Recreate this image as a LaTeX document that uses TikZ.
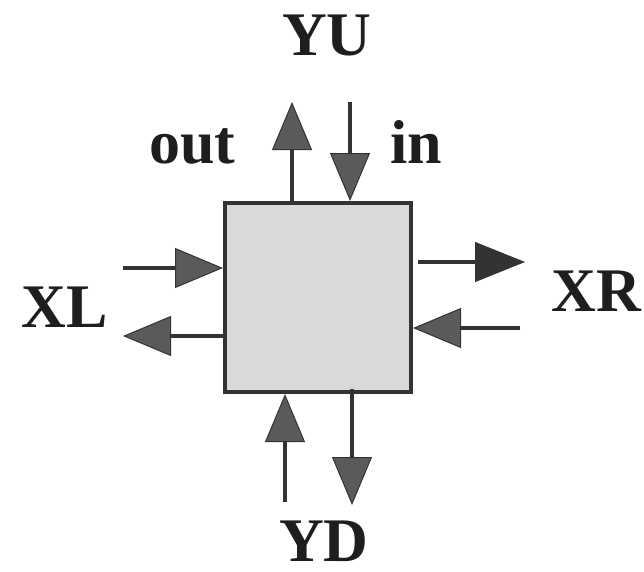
\documentclass[tikz,border=0pt]{standalone}
\usepackage{fontspec}
\setmainfont{Liberation Serif}
\usetikzlibrary{arrows.meta}

\definecolor{linegray}{HTML}{333333}
\definecolor{headgray}{HTML}{5A5A5A}
\definecolor{cellgray}{HTML}{D9D9D9}
\definecolor{textdark}{HTML}{1E1E1E}

\tikzset{
    cellbox/.style={draw=linegray, fill=cellgray, line width=4pt, inner sep=0pt,
        minimum width=186pt, minimum height=189pt},
    port/.style={draw=linegray, line width=4pt,
        -{Triangle[length=48pt, width=40pt, line width=1pt, fill=headgray]}},
    blackport/.style={port, -{Triangle[length=50pt, width=40pt, line width=1pt, fill=linegray]}},
    dirlabel/.style={font=\bfseries\fontsize{62}{62}\selectfont, inner sep=0pt, text=textdark},
}

\begin{document}
\begin{tikzpicture}[x=1pt, y=-1pt]
    \useasboundingbox (0,0) rectangle (644,571);

    \node[cellbox] (cell) at (318,297.5) {};

    % free ends of the ports
    \coordinate (outtip) at (292,102);
    \coordinate (intail) at (350,102);
    \coordinate (xlin) at (123,268);
    \coordinate (xlout) at (123,336);
    \coordinate (xrout) at (525,262);
    \coordinate (xrin) at (520,328);
    \coordinate (ydin) at (285,502);
    \coordinate (ydout) at (352,505);

    % top
    \draw[port] (cell.north -| outtip) -- (outtip);
    \draw[port] (intail) -- (cell.north -| intail);
    % left
    \draw[port] (xlin) -- (cell.west |- xlin);
    \draw[port] (cell.west |- xlout) -- (xlout);
    % right
    \draw[blackport] ([xshift=5pt]cell.east |- xrout) -- (xrout);
    \draw[port] (xrin) -- (cell.east |- xrin);
    % bottom
    \draw[port] (ydin) -- (cell.south -| ydin);
    \draw[port] ([yshift=5pt]cell.south -| ydout) -- (ydout);

    \node[dirlabel] (yu) at (327,35) {YU};
    \node[dirlabel, anchor=base west] (out) at (149,163) {out};
    \node[dirlabel, anchor=base west] (in) at (390,163) {in};
    \node[dirlabel] (xl) at (65,307) {XL};
    \node[dirlabel] (xr) at (596,291) {XR};
    \node[dirlabel] (yd) at (324,541) {YD};
\end{tikzpicture}
\end{document}
